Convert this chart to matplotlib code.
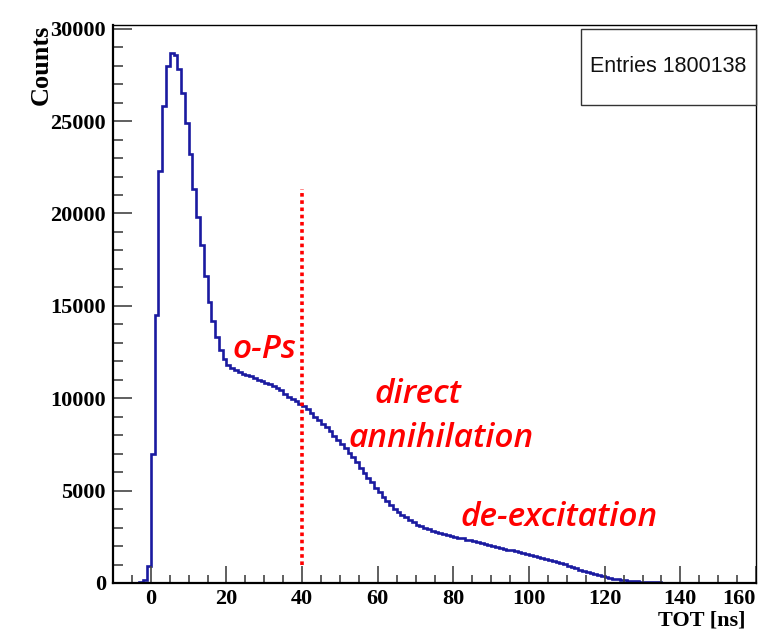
import numpy as np
import matplotlib.pyplot as plt
from matplotlib.patches import Rectangle
from matplotlib.ticker import MultipleLocator

# TOT histogram, 1 ns bins from -10 to 160 ns
bin_lo = -10
bin_hi = 160
counts = [
    0, 0, 0, 0, 0, 0, 10, 40, 150, 900,                                  # -10 .. -1
    7000, 14500, 22300, 25800, 28000, 28700, 28550, 27800, 26500, 24900,  # 0 .. 9
    23200, 21300, 19800, 18300, 16600, 15200, 14200, 13300, 12600, 12100,  # 10 .. 19
    11800, 11650, 11550, 11420, 11320, 11260, 11180, 11100, 11000, 10950,  # 20 .. 29
    10850, 10750, 10650, 10550, 10450, 10250, 10050, 9950, 9850, 9700,     # 30 .. 39
    9600, 9400, 9200, 9000, 8800, 8600, 8450, 8200, 7950, 7750,            # 40 .. 49
    7550, 7300, 7050, 6800, 6550, 6250, 5950, 5700, 5450, 5150,            # 50 .. 59
    4900, 4650, 4450, 4200, 4000, 3850, 3700, 3550, 3400, 3300,            # 60 .. 69
    3150, 3080, 2980, 2900, 2830, 2760, 2700, 2640, 2600, 2520,            # 70 .. 79
    2500, 2440, 2410, 2350, 2330, 2260, 2230, 2160, 2130, 2060,            # 80 .. 89
    2020, 1960, 1910, 1850, 1810, 1760, 1720, 1680, 1640, 1590,            # 90 .. 99
    1540, 1480, 1420, 1360, 1320, 1260, 1200, 1140, 1080, 1010,            # 100 .. 109
    940, 870, 800, 720, 650, 590, 530, 470, 420, 370,                      # 110 .. 119
    320, 280, 240, 200, 170, 140, 120, 100, 85, 70,                        # 120 .. 129
    60, 50, 42, 35, 30, 25, 20, 16, 12, 10,                                # 130 .. 139
    8, 7, 6, 5, 5, 4, 4, 3, 3, 3,                                          # 140 .. 149
    2, 2, 2, 2, 1, 1, 1, 1, 1, 1,                                          # 150 .. 159
]
entries = 1800138

cut_x = 40
cut_lo, cut_hi = 1000, 21300

labels = ["o-Ps", "direct", "annihilation", "de-excitation"]
label_x = [30.1, 70.6, 76.7, 108.0]
label_y = [12180, 9750, 7360, 3090]

edges = np.arange(bin_lo, bin_hi + 1)

fig = plt.figure(figsize=(7.58, 6.29), dpi=100)
ax = fig.add_axes([113/758, 1-583/629, 643/758, 558/629])

ax.stairs(counts, edges, color='#1a1aa0', lw=1.9)
ax.plot([cut_x, cut_x], [cut_lo, cut_hi], color='red', lw=2.6, ls=(0, (1, 1)))

for t, x, y in zip(labels, label_x, label_y):
    ax.text(x, y, t, color='red', fontsize=24, style='italic', family='Open Sans',
            weight='semibold', ha='center', va='baseline')

ax.set_xlim(-10, 160)
ax.set_ylim(0, 30200)
ax.xaxis.set_major_locator(MultipleLocator(20))
ax.xaxis.set_minor_locator(MultipleLocator(5))
ax.yaxis.set_major_locator(MultipleLocator(5000))
ax.yaxis.set_minor_locator(MultipleLocator(1000))
ax.tick_params(which='both', direction='in', top=False, right=False, color='#444444')
ax.tick_params(axis='y', which='major', length=14, width=1.2, pad=5)
ax.tick_params(axis='y', which='minor', length=7.5, width=1.2)
ax.tick_params(axis='x', which='major', length=12, width=1.2, pad=4)
ax.tick_params(axis='x', which='minor', length=6, width=1.2)
fig.canvas.draw()
for lab in ax.get_xticklabels() + ax.get_yticklabels():
    lab.set_family('Liberation Serif')
    lab.set_weight('bold')
    lab.set_fontsize(16)
# the last x label sits on the right edge; keep it inside the picture
for lab in ax.get_xticklabels():
    if lab.get_text() == '160':
        lab.set_horizontalalignment('right')
for s in ['left', 'bottom']:
    ax.spines[s].set_linewidth(1.6)
for s in ['top', 'right']:
    ax.spines[s].set_linewidth(1.0)

fig.text(41/758, 1-25/629, 'Counts', rotation=90, ha='center', va='top',
         family='Liberation Serif', weight='bold', fontsize=19)
fig.text(745/758, 1-625/629, 'TOT [ns]', ha='right', va='baseline',
         family='Liberation Serif', weight='bold', fontsize=16)

fig.add_artist(Rectangle((581/758, 1-105/629), 175/758, 76/629, transform=fig.transFigure,
                         facecolor='white', edgecolor='#333333', lw=1.0))
fig.text(668/758, 1-67/629, 'Entries %d' % entries, ha='center', va='center',
         family='Liberation Sans', fontsize=15.5, color='#111111')

fig.savefig('out.png', dpi=100)
